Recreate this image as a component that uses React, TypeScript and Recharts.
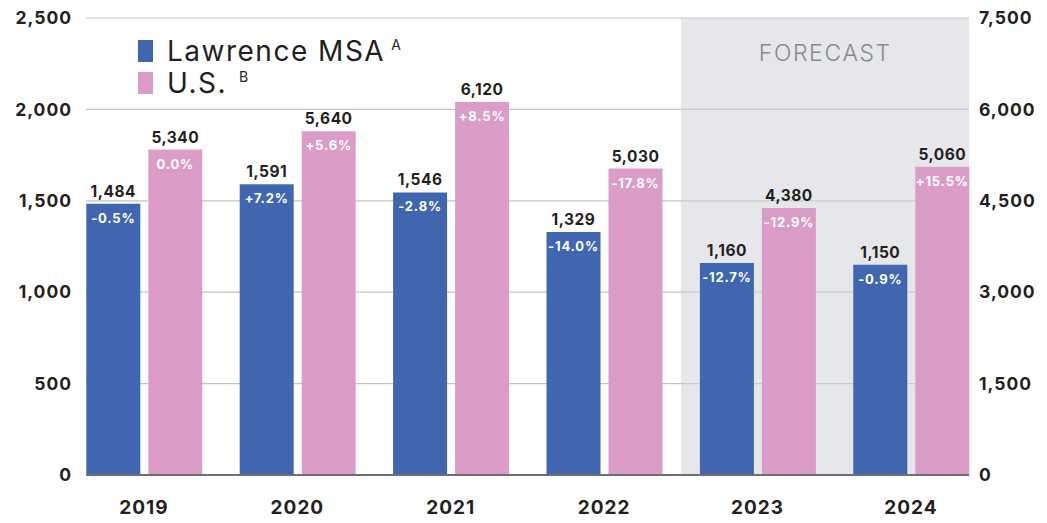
import React from 'react';
import {
  ComposedChart, Bar, XAxis, YAxis, CartesianGrid, ReferenceArea, LabelList, Label,
} from 'recharts';

const years = ['2019', '2020', '2021', '2022', '2023', '2024'];
const lawrenceValues = [1484, 1591, 1546, 1329, 1160, 1150];
const lawrenceChange = ['-0.5%', '+7.2%', '-2.8%', '-14.0%', '-12.7%', '-0.9%'];
const usValues = [5340, 5640, 6120, 5030, 4380, 5060];
const usChange = ['0.0%', '+5.6%', '+8.5%', '-17.8%', '-12.9%', '+15.5%'];
const leftTicks = [0, 500, 1000, 1500, 2000, 2500];
const rightTicks = [0, 1500, 3000, 4500, 6000, 7500];
const forecastStart = '2023';
const forecastEnd = '2024';

const BLUE = '#4166b0';
const PINK = '#db9dc7';
const FONT = 'Inter, "DejaVu Sans", sans-serif';

const data = years.map((y, i) => ({
  year: y,
  lawrence: lawrenceValues[i],
  lawrenceChg: lawrenceChange[i],
  us: usValues[i],
  usChg: usChange[i],
}));

const fmt = (v: number) => v.toLocaleString('en-US');

const ValueLabel = (props: any) => {
  const { x, y, width, value } = props;
  return (
    <text x={x + width / 2} y={y - 7} textAnchor="middle" fontFamily={FONT} fontWeight={700}
      fontSize={15.5} letterSpacing={0.5} fill="#231f20">{fmt(value)}</text>
  );
};

const ChangeLabel = (props: any) => {
  const { x, y, width, value } = props;
  return (
    <text x={x + width / 2} y={y + 19} textAnchor="middle" fontFamily={FONT} fontWeight={700}
      fontSize={13} letterSpacing={0.8} fill="#ffffff">{value}</text>
  );
};

const supStyle: React.CSSProperties = {
  fontSize: 14, lineHeight: '14px', height: 14, alignSelf: 'flex-start', marginTop: 3,
};

const LegendBox = () => (
  <div style={{ position: 'absolute', left: 138, top: 35, fontFamily: FONT, color: '#231f20' }}>
    <div style={{ display: 'flex', alignItems: 'center', height: 32 }}>
      <span style={{ display: 'inline-block', width: 15, height: 22, background: BLUE, marginRight: 14 }} />
      <span style={{ fontSize: 28, lineHeight: '30px', letterSpacing: 1.5 }}>Lawrence MSA</span>
      <span style={{ ...supStyle, marginLeft: 6 }}>A</span>
    </div>
    <div style={{ display: 'flex', alignItems: 'center', height: 32 }}>
      <span style={{ display: 'inline-block', width: 15, height: 22, background: PINK, marginRight: 14 }} />
      <span style={{ fontSize: 28, lineHeight: '30px', letterSpacing: 1.5 }}>U.S.</span>
      <span style={{ ...supStyle, marginLeft: 12 }}>B</span>
    </div>
  </div>
);

export default function App() {
  return (
    <div style={{ position: 'absolute', left: 0, top: 0, width: 1047, height: 523, background: '#fff' }}>
      <ComposedChart
        width={1047}
        height={523}
        data={data}
        margin={{ top: 18, right: 0, bottom: 0, left: 0 }}
        barGap={8}
        barCategoryGap={18.7}
      >
        <ReferenceArea yAxisId="left" x1={forecastStart} x2={forecastEnd} fill="#d2d4d8" fillOpacity={0.55}
          stroke="none" ifOverflow="hidden">
          <Label value="FORECAST" position="insideTop" offset={27} dx={-9} fill="#8a8b8d"
            fontFamily={FONT} fontSize={23} fontWeight={300} letterSpacing={1.6} />
        </ReferenceArea>
        <CartesianGrid vertical={false} yAxisId="left" stroke="#c4c4c4" strokeWidth={1.2} />
        <XAxis dataKey="year" padding={{ left: -18.7, right: -18.7 }} height={48}
          axisLine={{ stroke: '#6d6e71', strokeWidth: 2 }} tickLine={false} tickSize={0} tickMargin={26}
          tick={{ fontFamily: FONT, fontWeight: 700, fontSize: 19, fill: '#231f20', letterSpacing: 1 }} />
        <YAxis yAxisId="left" orientation="left" width={86} domain={[0, 2500]} ticks={leftTicks}
          axisLine={false} tickLine={false} tickSize={0} tickMargin={14} tickFormatter={fmt}
          tick={{ fontFamily: FONT, fontWeight: 700, fontSize: 17.5, fill: '#231f20', letterSpacing: 1 }} />
        <YAxis yAxisId="right" orientation="right" width={78} domain={[0, 7500]} ticks={rightTicks}
          axisLine={false} tickLine={false} tickSize={0} tickMargin={10} tickFormatter={fmt}
          tick={{ fontFamily: FONT, fontWeight: 700, fontSize: 17.5, fill: '#231f20', textAnchor: 'start', letterSpacing: 1 }} />
        <Bar yAxisId="left" dataKey="lawrence" name="Lawrence MSA" fill={BLUE} barSize={54} isAnimationActive={false}>
          <LabelList dataKey="lawrence" content={<ValueLabel />} />
          <LabelList dataKey="lawrenceChg" content={<ChangeLabel />} />
        </Bar>
        <Bar yAxisId="right" dataKey="us" name="U.S." fill={PINK} barSize={54} isAnimationActive={false}>
          <LabelList dataKey="us" content={<ValueLabel />} />
          <LabelList dataKey="usChg" content={<ChangeLabel />} />
        </Bar>
      </ComposedChart>
      <LegendBox />
    </div>
  );
}
